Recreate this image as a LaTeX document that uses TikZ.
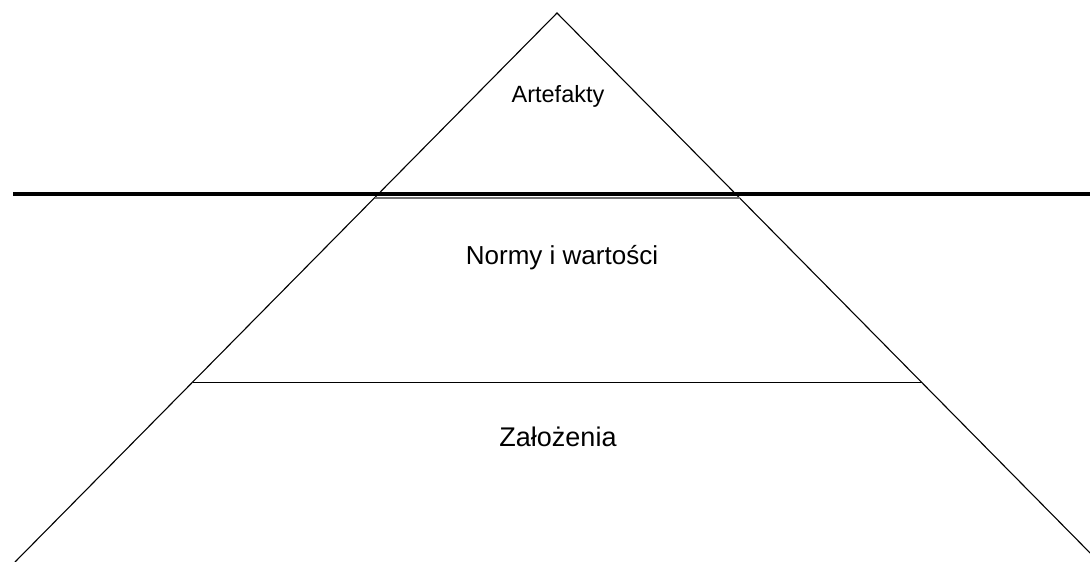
\documentclass[tikz,border=0pt]{standalone}
\usepackage{fontspec}
\setmainfont{Liberation Sans}
\begin{document}
\begin{tikzpicture}[x=1pt,y=-1pt,
  side/.style={line width=1.1pt,black},
  level/.style={line width=1.2pt,black},
  surface/.style={line width=4pt,black},
  label/.style={anchor=base,inner sep=0pt}]
\useasboundingbox (0,0) rectangle (1090,562);
\clip (0,0) rectangle (1090,562);
% pyramid outline
\coordinate (apex) at (557,13);
\coordinate (bl) at (15,562);
\coordinate (br) at (1099,562);
\draw[side] (bl) -- (apex) -- (br);
% boundary between the upper and the middle level
\coordinate (gl) at (374.5,197.8);
\coordinate (gr) at (739.5,197.8);
\draw[line width=1.6pt,black!55] (gl) -- (gr);
% surface line across the whole width
\coordinate (sl) at (13,194);
\coordinate (sr) at (1090,194);
\draw[surface] (sl) -- (sr);
% boundary between the middle and the lower level
\coordinate (ml) at (192.5,382.5);
\coordinate (mr) at (921.5,382.5);
\draw[level] (ml) -- (mr);
% level captions
\node[label,font=\fontsize{23.5}{28}\selectfont] (art) at (558,102) {Artefakty};
\node[label,font=\fontsize{26}{30}\selectfont] (norm) at (562,264.5) {Normy i wartości};
\node[label,font=\fontsize{27}{32}\selectfont] (zal) at (558,446.5) {Założenia};
\end{tikzpicture}
\end{document}
